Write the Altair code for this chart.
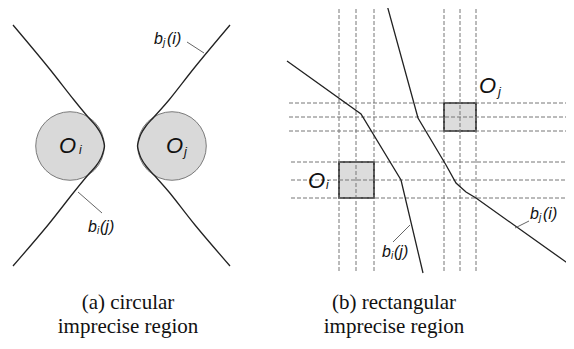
import altair as alt
import pandas as pd

# ---- data (pixel-space coordinates of the figure) ----
# left panel: circles (centre x, centre y)
circle_name = ["Oi", "Oj"]
circle_x = [70, 172]
circle_y = [146, 146]

# left panel: bisector curves
curve_left_x = [13, 48, 74, 88, 96, 101, 103.5, 104.5, 103.5, 101, 96, 88, 74, 48, 13]
curve_left_y = [25, 67, 100, 117, 126, 134, 141, 146, 151, 158, 166, 175, 192, 225, 266]
curve_right_x = [230, 195, 169, 154, 146, 141, 138.5, 137.5, 138.5, 141, 146, 154, 169, 195, 230]
curve_right_y = [25, 67, 100, 117, 126, 134, 141, 146, 151, 158, 166, 175, 192, 225, 266]

# right panel: rectangles
rect_x1 = [339, 444]
rect_x2 = [374, 476]
rect_y1 = [162, 103]
rect_y2 = [198, 131]

# right panel: dashed guide lines
vert_x = [339, 356, 374, 444, 460, 476]
vert_y1 = 9
vert_y2 = 272
horiz_y = [103, 117, 131, 162, 180, 198]
horiz_x1 = [289, 289, 289, 291, 291, 291]
horiz_x2 = 570

# right panel: polyline bisectors
poly_bij_x = [287, 361, 401, 423]
poly_bij_y = [61, 114, 180, 273]
poly_bji_x = [387, 418, 446, 456, 466, 476, 573]
poly_bji_y = [5, 118, 165, 183, 192, 198, 267]

# leader lines for labels
lead_x1 = [187, 78, 393, 515]
lead_y1 = [42, 192, 242, 228]
lead_x2 = [204, 102, 410, 529]
lead_y2 = [53, 213, 225, 221]

# italic labels (left-aligned, alphabetic baseline)
lab_text = ["O", "i", "O", "j", "O", "i", "O", "j",
            "b", "j", "(i)", "b", "i", "(j)",
            "b", "i", "(j)", "b", "j", "(i)"]
lab_x = [59, 79, 166, 184, 308, 326, 479, 498,
         154, 163, 167, 88, 97, 100,
         382, 391, 394, 530, 539, 543]
lab_y = [153, 154, 153, 156, 188, 189, 93, 96,
         44, 46, 44, 232, 234, 232,
         257, 259, 257, 219, 221, 219]
lab_size = [22, 12, 22, 13, 22, 12, 22, 13,
            16, 10, 16, 16, 10, 16,
            16, 10, 16, 16, 10, 16]

# captions
cap_text = ["(a) circular", "imprecise region", "(b) rectangular", "imprecise region"]
cap_x = [128, 128, 394, 394]
cap_y = [309, 333, 309, 333]

# ---- build tables ----
xs = alt.Scale(domain=[8, 566])
ys = alt.Scale(domain=[8, 341], reverse=True)

def X(f="x"):
    return alt.X(f"{f}:Q", scale=xs, axis=None)

def Y(f="y"):
    return alt.Y(f"{f}:Q", scale=ys, axis=None)

circles = pd.DataFrame({"name": circle_name, "x": circle_x, "y": circle_y})

curves = pd.concat([
    pd.DataFrame({"c": "left", "i": range(len(curve_left_x)), "x": curve_left_x, "y": curve_left_y}),
    pd.DataFrame({"c": "right", "i": range(len(curve_right_x)), "x": curve_right_x, "y": curve_right_y}),
])
polys = pd.concat([
    pd.DataFrame({"c": "bij", "i": range(len(poly_bij_x)), "x": poly_bij_x, "y": poly_bij_y}),
    pd.DataFrame({"c": "bji", "i": range(len(poly_bji_x)), "x": poly_bji_x, "y": poly_bji_y}),
])
rects = pd.DataFrame({"x": rect_x1, "x2": rect_x2, "y": rect_y1, "y2": rect_y2})
verts = pd.DataFrame({"x": vert_x, "y": [vert_y1] * len(vert_x), "y2": [vert_y2] * len(vert_x)})
horiz = pd.DataFrame({"y": horiz_y, "x": horiz_x1, "x2": [horiz_x2] * len(horiz_y)})
leads = pd.DataFrame({"x": lead_x1, "y": lead_y1, "x2": lead_x2, "y2": lead_y2})
labels = pd.DataFrame({"t": lab_text, "x": lab_x, "y": lab_y, "s": lab_size})
caps = pd.DataFrame({"t": cap_text, "x": cap_x, "y": cap_y})

circle_layer = alt.Chart(circles).mark_point(
    shape="circle", filled=True, fill="#d9d9d9", fillOpacity=1,
    stroke="#7a7a7a", strokeOpacity=1, strokeWidth=1, size=4700
).encode(x=X(), y=Y())

rect_layer = alt.Chart(rects).mark_rect(
    fill="#dcdcdc", stroke="#1a1a1a", strokeWidth=1.6
).encode(x=X(), x2="x2:Q", y=Y(), y2="y2:Q")

vert_layer = alt.Chart(verts).mark_rule(
    color="#777777", strokeWidth=1, strokeDash=[4, 2]
).encode(x=X(), y=Y(), y2="y2:Q")

horiz_layer = alt.Chart(horiz).mark_rule(
    color="#777777", strokeWidth=1, strokeDash=[4, 2]
).encode(y=Y(), x=X(), x2="x2:Q")

curve_layer = alt.Chart(curves).mark_line(
    color="#222222", strokeWidth=1.3, interpolate="catmull-rom"
).encode(x=X(), y=Y(), detail="c:N", order="i:Q")

poly_layer = alt.Chart(polys).mark_line(
    color="#222222", strokeWidth=1.3
).encode(x=X(), y=Y(), detail="c:N", order="i:Q")

lead_layer = alt.Chart(leads).mark_rule(
    color="#666666", strokeWidth=1
).encode(x=X(), y=Y(), x2="x2:Q", y2="y2:Q")

label_layer = alt.Chart(labels).mark_text(
    font="Liberation Sans", fontStyle="italic", align="left",
    baseline="alphabetic", color="#111111"
).encode(x=X(), y=Y(), text="t:N", size=alt.Size("s:Q", scale=None, legend=None))

cap_layer = alt.Chart(caps).mark_text(
    font="Liberation Serif", fontSize=21, align="center",
    baseline="alphabetic", color="#111111"
).encode(x=X(), y=Y(), text="t:N")

chart = alt.layer(
    rect_layer, vert_layer, horiz_layer, circle_layer,
    curve_layer, poly_layer, lead_layer, label_layer, cap_layer
).properties(
    width=558, height=333, autosize=alt.AutoSizeParams(type="none"), padding=0,
    background="white"
).configure_view(stroke=None)

chart.save("out.html", embed_options={"renderer": "svg", "actions": False})
